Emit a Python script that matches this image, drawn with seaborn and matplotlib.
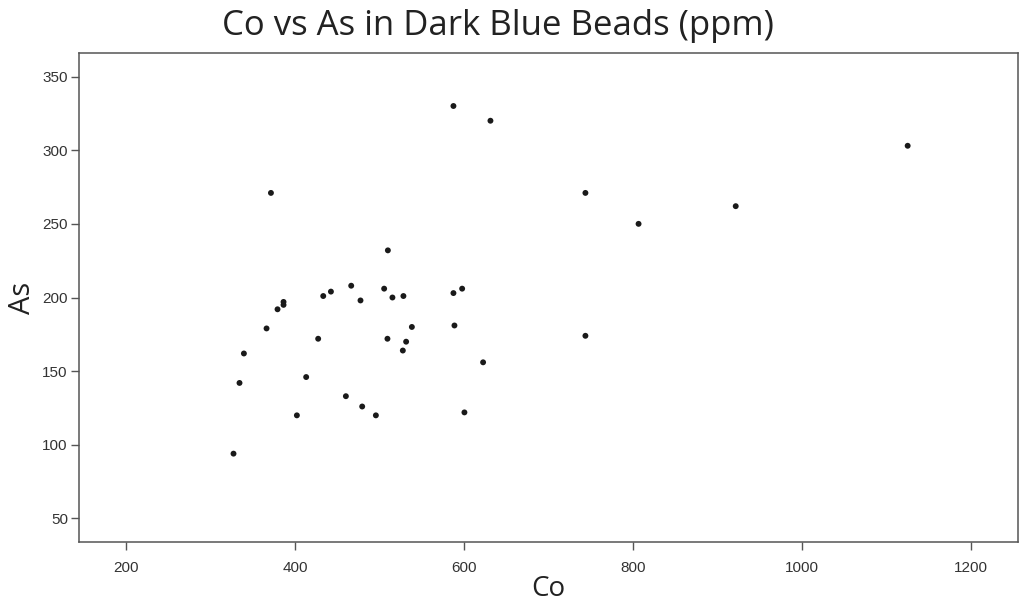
import matplotlib
matplotlib.use("Agg")
import matplotlib.pyplot as plt
import seaborn as sns
import pandas as pd

# Co and As concentrations (ppm)
co = [326.9, 334.0, 339.2, 366.0, 379.0, 386.1, 386.1, 371.2, 401.9, 412.9,
      427.1, 433.1, 442.2, 459.9, 466.2, 477.2, 479.2, 495.4, 505.2, 509.6,
      509.1, 515.0, 528.0, 527.3, 531.2, 538.0, 587.2, 587.2, 588.4, 597.5,
      600.2, 622.3, 631.0, 743.4, 743.4, 806.3, 921.3, 1124.8]
arsenic = [94, 142, 162, 179, 192, 197, 195, 271, 120, 146,
           172, 201, 204, 133, 208, 198, 126, 120, 206, 232,
           172, 200, 201, 164, 170, 180, 330, 203, 181, 206,
           122, 156, 320, 271, 174, 250, 262, 303]

x_ticks = [200, 400, 600, 800, 1000, 1200]
y_ticks = [50, 100, 150, 200, 250, 300, 350]

df = pd.DataFrame({"Co": co, "As": arsenic})

sns.set_style("white")
plt.rcParams["font.family"] = ["Open Sans", "DejaVu Sans"]

fig = plt.figure(figsize=(10.19, 6.04), dpi=100)
ax = fig.add_axes([0.0775, 0.1026, 0.9212, 0.8097])

sns.scatterplot(data=df, x="Co", y="As", ax=ax, color="#1a1a1a",
                s=18, edgecolor="none", linewidth=0)

ax.set_xlim(144, 1255)
ax.set_ylim(34, 366)
ax.set_xticks(x_ticks)
ax.set_yticks(y_ticks)

for sp in ax.spines.values():
    sp.set_visible(True)
    sp.set_color("#555555")
    sp.set_linewidth(1.1)

ax.tick_params(axis="both", direction="out", length=6, width=1,
               color="#555555", labelcolor="#333333", bottom=True, left=True)
ax.tick_params(axis="x", pad=8)
ax.tick_params(axis="y", pad=2)
for lab in ax.get_yticklabels():
    lab.set_fontfamily(["Liberation Sans", "DejaVu Sans"])
    lab.set_fontsize(11)
for lab in ax.get_xticklabels():
    lab.set_fontfamily(["Liberation Sans", "DejaVu Sans"])
    lab.set_fontsize(11)

ax.set_xlabel("Co", fontsize=20, color="#222222", labelpad=0)
ax.set_ylabel("As", fontsize=21, color="#222222", labelpad=4)
fig.suptitle("Co vs As in Dark Blue Beads (ppm)", fontsize=25, color="#222222",
             x=0.489, y=0.985, va="top")

fig.savefig("out.png", dpi=100, facecolor="white")
